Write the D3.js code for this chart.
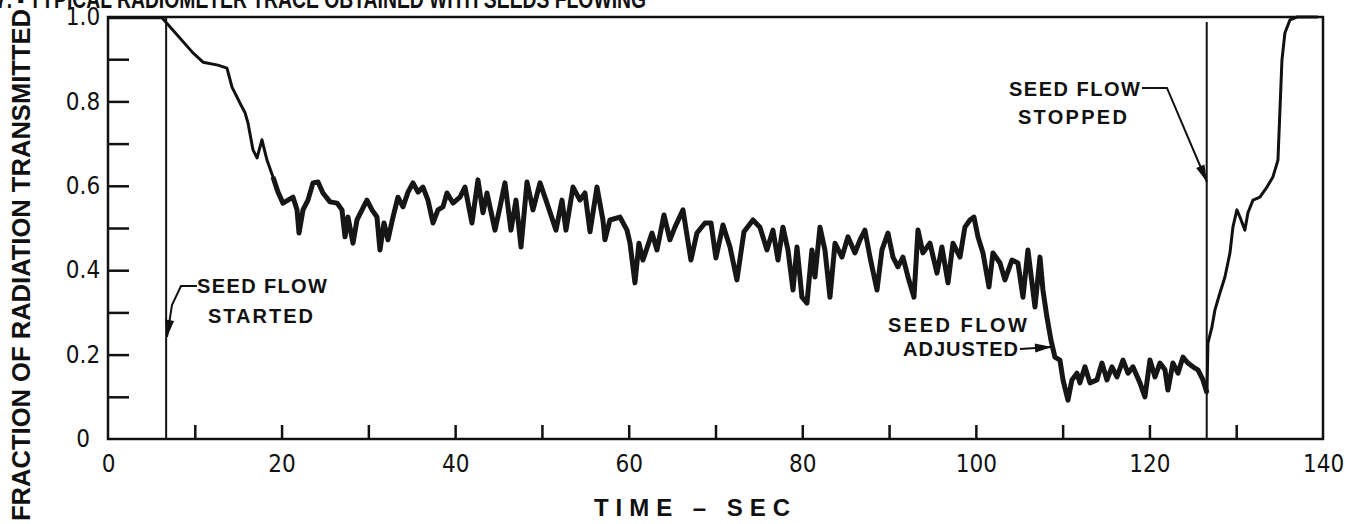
<!DOCTYPE html>
<html lang="en">
<head>
<meta charset="UTF-8">
<title>Radiometer trace with seeds flowing</title>
<script src="https://d3js.org/d3.v7.min.js"></script>
<style>
  body { margin: 0; background: #fff; }
  svg { display: block; }
  text { font-family: "Liberation Sans", Arial, sans-serif; fill: #111; }
</style>
</head>
<body>
<script>
// trace: time (sec) and fraction transmitted
const time = [0, 6.22, 9.79, 10.95, 12.67, 13.71, 14.29, 15.21, 15.79, 16.13, 16.71, 17.17, 17.74, 18.32, 19.01, 19.59,
  20.16, 20.74, 21.32, 21.78, 22.01, 22.47, 23.04, 23.62, 24.20, 24.77, 25.58, 26.39, 26.96, 27.31, 27.65, 28.23, 28.69,
  29.27, 29.84, 30.42, 30.99, 31.34, 31.80, 32.26, 32.84, 33.41, 33.99, 34.57, 35.14, 35.72, 36.29, 36.87, 37.45, 38.02,
  38.60, 39.06, 39.75, 40.56, 41.13, 41.94, 42.63, 43.21, 43.67, 44.59, 45.17, 45.74, 46.43, 47.01, 47.59, 48.28, 48.97,
  49.78, 50.58, 51.62, 52.31, 52.77, 53.58, 54.38, 54.96, 55.54, 56.34, 57.03, 57.26, 57.84, 58.99, 59.80, 60.15, 60.72,
  61.18, 61.64, 62.68, 63.26, 64.06, 64.75, 65.33, 66.25, 67.17, 67.86, 68.79, 69.48, 70.05, 70.86, 71.67, 72.47, 73.28,
  74.32, 75.12, 75.93, 76.62, 77.20, 77.77, 78.35, 78.93, 79.39, 79.96, 80.54, 81.11, 81.46, 82.04, 82.61, 83.19, 83.77,
  84.57, 85.26, 86.07, 86.65, 87.22, 87.80, 88.61, 89.18, 89.87, 90.45, 91.02, 91.60, 92.18, 92.87, 93.33, 93.90, 94.71,
  95.52, 96.09, 96.79, 97.36, 98.17, 98.74, 99.32, 99.78, 100.24, 100.82, 101.51, 101.97, 102.78, 103.35, 104.16, 104.85,
  105.43, 106.00, 106.81, 107.39, 107.73, 108.19, 108.65, 109.11, 109.69, 110.04, 110.61, 111.07, 111.65, 111.99, 112.57,
  113.15, 113.95, 114.53, 115.11, 115.68, 116.26, 116.95, 117.53, 118.10, 118.91, 119.48, 120.06, 120.64, 121.21, 121.79,
  122.13, 122.71, 123.29, 123.86, 124.44, 125.01, 125.59, 126.17, 126.63, 126.74, 127.20, 127.55, 128.12, 128.70, 129.28,
  129.62, 130.08, 130.43, 131.00, 131.35, 131.93, 132.73, 133.54, 134.23, 134.81, 135.04, 135.27, 135.61, 136.19, 137.00,
  139.40];
const transmitted = [0.998, 0.998, 0.915, 0.893, 0.886, 0.879, 0.834, 0.796, 0.773, 0.749, 0.685, 0.666, 0.709, 0.661, 0.621, 0.585,
  0.559, 0.566, 0.573, 0.543, 0.488, 0.543, 0.566, 0.607, 0.609, 0.583, 0.562, 0.559, 0.543, 0.479, 0.526, 0.464, 0.519,
  0.543, 0.566, 0.543, 0.526, 0.448, 0.512, 0.472, 0.526, 0.573, 0.550, 0.585, 0.607, 0.585, 0.597, 0.566, 0.512, 0.543,
  0.550, 0.583, 0.559, 0.573, 0.597, 0.512, 0.614, 0.536, 0.583, 0.495, 0.550, 0.607, 0.495, 0.566, 0.455, 0.609, 0.543,
  0.607, 0.559, 0.495, 0.566, 0.495, 0.597, 0.566, 0.583, 0.491, 0.597, 0.519, 0.472, 0.519, 0.526, 0.495, 0.464, 0.370,
  0.464, 0.424, 0.488, 0.448, 0.531, 0.472, 0.502, 0.543, 0.424, 0.488, 0.512, 0.512, 0.429, 0.507, 0.455, 0.377, 0.491,
  0.519, 0.502, 0.448, 0.495, 0.424, 0.502, 0.448, 0.353, 0.455, 0.336, 0.322, 0.448, 0.384, 0.502, 0.448, 0.336, 0.464,
  0.431, 0.479, 0.441, 0.472, 0.495, 0.431, 0.353, 0.448, 0.488, 0.431, 0.408, 0.431, 0.384, 0.336, 0.495, 0.441, 0.464,
  0.393, 0.455, 0.370, 0.464, 0.431, 0.502, 0.519, 0.526, 0.479, 0.441, 0.360, 0.441, 0.417, 0.377, 0.424, 0.417,
  0.336, 0.448, 0.313, 0.431, 0.353, 0.289, 0.235, 0.194, 0.187, 0.140, 0.092, 0.140, 0.156, 0.133, 0.171,
  0.133, 0.140, 0.180, 0.140, 0.171, 0.147, 0.187, 0.156, 0.171, 0.133, 0.100, 0.187, 0.147, 0.180, 0.164,
  0.116, 0.180, 0.156, 0.194, 0.180, 0.171, 0.164, 0.140, 0.109, 0.227, 0.265, 0.306, 0.346, 0.384, 0.441,
  0.502, 0.543, 0.526, 0.495, 0.536, 0.566, 0.573, 0.597, 0.621, 0.661, 0.780, 0.898, 0.962, 0.993, 1.000,
  1.000];

const xLabelTicks = [0, 20, 40, 60, 80, 100, 120, 140];
const xMarkTicks = [10, 20, 30, 40, 50, 60, 70, 80, 90, 100, 110, 120, 130];
const yLabelTicks = [0, 0.2, 0.4, 0.6, 0.8, 1.0];
const yMarkTicks = [0.1, 0.2, 0.3, 0.4, 0.5, 0.6, 0.7, 0.8, 0.9];
const seedStarted = 6.7;
const seedStopped = 126.6;
const noisyFrom = 19.0, noisyTo = 126.7;   // stretch where the pen trace is smeared thick

// annotation labels, positioned in data units
const notes = [
  {lines: ["SEED FLOW", "STARTED"], at: [[10.25, 0.346, 130], [11.52, 0.275, 105]],
   leader: [[10.25, 0.3626], [8.41, 0.3626], [7.37, 0.3175], [6.8, 0.2417]]},
  {lines: ["SEED FLOW", "STOPPED"], at: [[103.81, 0.8128, 131], [104.85, 0.7464, 109]],
   leader: [[119.14, 0.8318], [122.02, 0.8318], [126.63, 0.609]]},
  {lines: ["SEED  FLOW", "ADJUSTED"], at: [[89.87, 0.2536, 139], [91.60, 0.1967, 115]],
   leader: [[105.08, 0.2133], [108.77, 0.218]]}
];

const W = 1345, H = 524;
const margin = {top: 17, right: 22, bottom: 85, left: 108};
const tickFont = "\"Liberation Sans Narrow\", \"DejaVu Sans Condensed\", \"Liberation Sans\", sans-serif";

const svg = d3.select("body").append("svg")
    .attr("width", W)
    .attr("height", H);

const x = d3.scaleLinear().domain([0, 140]).range([margin.left, W - margin.right]);
const y = d3.scaleLinear().domain([0, 1]).range([H - margin.bottom, margin.top]);

// figure caption, cropped at the top edge as in the scan
svg.append("text")
    .attr("x", -4).attr("y", 8)
    .attr("textLength", 650).attr("lengthAdjust", "spacingAndGlyphs")
    .style("font-size", "25px").style("font-weight", "bold")
    .text("7. - TYPICAL RADIOMETER TRACE OBTAINED WITH SEEDS FLOWING");

// inward tick marks
svg.append("g")
    .attr("transform", `translate(${margin.left},0)`)
    .call(d3.axisRight(y).tickValues(yMarkTicks).tickSize(21).tickFormat(""))
    .call(g => g.select(".domain").remove())
    .selectAll("line").attr("stroke", "#111").attr("stroke-width", 2.5);

svg.append("g")
    .attr("transform", `translate(0,${y(0)})`)
    .call(d3.axisTop(x).tickValues(xMarkTicks).tickSize(14).tickFormat(""))
    .call(g => g.select(".domain").remove())
    .selectAll("line").attr("stroke", "#111").attr("stroke-width", 2.5);

// tick labels
svg.append("g")
    .attr("transform", `translate(${margin.left},0)`)
    .call(d3.axisLeft(y).tickValues(yLabelTicks).tickSize(0).tickFormat(d => d === 0 ? "0" : d3.format(".1f")(d)))
    .call(g => g.select(".domain").remove())
    .selectAll("text")
    .attr("x", -25).attr("text-anchor", "middle")
    .style("font-family", tickFont)
    .style("font-size", "24px").attr("fill", "#111");

svg.append("g")
    .attr("transform", `translate(0,${y(0)})`)
    .call(d3.axisBottom(x).tickValues(xLabelTicks).tickSize(0).tickPadding(16))
    .call(g => g.select(".domain").remove())
    .selectAll("text")
    .style("font-family", tickFont)
    .style("font-size", "24px").attr("fill", "#111");

// frame
svg.append("path")
    .attr("d", `M${x(0)},${y(1)}H${x(140)}V${y(0)}H${x(0)}Z`)
    .attr("fill", "none").attr("stroke", "#111").attr("stroke-width", 2.5);

// seed on / off marker lines
svg.append("line")
    .attr("x1", x(seedStarted)).attr("x2", x(seedStarted))
    .attr("y1", y(1)).attr("y2", y(0))
    .attr("stroke", "#111").attr("stroke-width", 2);
svg.append("line")
    .attr("x1", x(seedStopped)).attr("x2", x(seedStopped))
    .attr("y1", y(0.988)).attr("y2", y(0))
    .attr("stroke", "#111").attr("stroke-width", 2);

// the trace
const line = d3.line().x(d => x(d.t)).y(d => y(d.v));
const pts = time.map((t, i) => ({t, v: transmitted[i]}));
svg.append("path")
    .datum(pts)
    .attr("d", line)
    .attr("fill", "none")
    .attr("stroke", "#111")
    .attr("stroke-width", 3)
    .attr("stroke-linejoin", "round");
svg.append("path")
    .datum(pts.filter(d => d.t >= noisyFrom && d.t <= noisyTo))
    .attr("d", line)
    .attr("fill", "none")
    .attr("stroke", "#161616")
    .attr("stroke-width", 5)
    .attr("stroke-linejoin", "round");

// annotations
notes.forEach(n => {
  n.lines.forEach((t, i) => {
    const [tx, ty, len] = n.at[i];
    svg.append("text")
        .attr("x", x(tx)).attr("y", y(ty))
        .attr("textLength", len).attr("lengthAdjust", "spacing")
        .style("font-size", "20px").style("font-weight", "bold")
        .text(t);
  });
  const p = n.leader.map(q => [x(q[0]), y(q[1])]);
  svg.append("path")
      .attr("d", d3.line()(p))
      .attr("fill", "none").attr("stroke", "#111").attr("stroke-width", 2);
  // arrowhead at the last point
  const [tx, ty] = p[p.length - 1];
  const [fx, fy] = p[p.length - 2];
  const a = Math.atan2(ty - fy, tx - fx);
  const L = 17, w = 4.5;
  const bx = tx - L * Math.cos(a), by = ty - L * Math.sin(a);
  svg.append("path")
      .attr("d", `M${tx},${ty}L${bx + w * Math.sin(a)},${by - w * Math.cos(a)}L${bx - w * Math.sin(a)},${by + w * Math.cos(a)}Z`)
      .attr("fill", "#111");
});

// axis titles
svg.append("text")
    .attr("x", 692).attr("y", 516)
    .attr("text-anchor", "middle")
    .attr("textLength", 196).attr("lengthAdjust", "spacing")
    .style("font-size", "24px").style("font-weight", "bold")
    .text("TIME \u2013 SEC");

svg.append("text")
    .attr("transform", "translate(30,265) rotate(-90)")
    .attr("text-anchor", "middle")
    .attr("textLength", 512).attr("lengthAdjust", "spacingAndGlyphs")
    .style("font-size", "25px").style("font-weight", "bold")
    .text("FRACTION OF RADIATION TRANSMITTED");
</script>
</body>
</html>
